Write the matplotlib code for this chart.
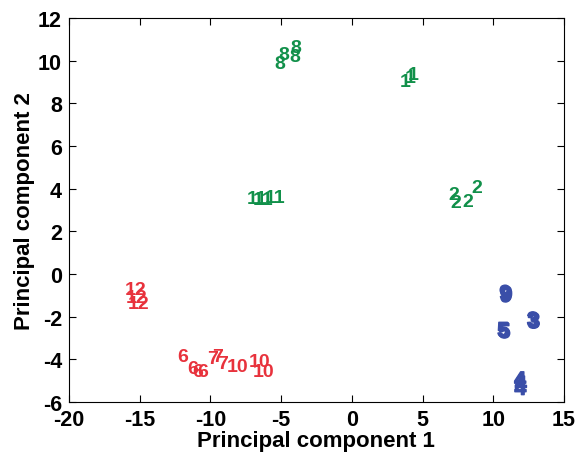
import matplotlib
matplotlib.use("Agg")
import matplotlib.pyplot as plt
import matplotlib.patheffects as pe

plt.rcParams['font.family'] = ['Liberation Sans', 'DejaVu Sans']
plt.rcParams['axes.unicode_minus'] = False

# Label groups: (label, x values, y values, colour key)
g8_x = [-5.1, -4.8, -4.0, -3.95]
g8_y = [9.85, 10.3, 10.2, 10.6]
g1_x = [3.8, 4.15, 4.35]
g1_y = [9.0, 9.2, 9.35]
g11_x = [-6.7, -6.3, -5.4]
g11_y = [3.55, 3.5, 3.6]
g2_x = [7.2, 7.35, 8.2, 8.8]
g2_y = [3.7, 3.35, 3.4, 4.05]
g12_x = [-15.3, -15.2, -15.1]
g12_y = [-0.75, -1.1, -1.4]
g6_x = [-11.95, -11.25, -10.9, -10.55]
g6_y = [-3.85, -4.45, -4.55, -4.55]
g7_x = [-9.85, -9.5, -9.15]
g7_y = [-3.95, -3.85, -4.2]
g10_x = [-8.1, -6.55, -6.25]
g10_y = [-4.35, -4.1, -4.55]
g9_x = [10.85, 10.95, 10.9]
g9_y = [-0.95, -1.0, -1.05]
g3_x = [12.8, 12.9, 12.85]
g3_y = [-2.2, -2.25, -2.28]
g5_x = [10.7, 10.8, 10.75]
g5_y = [-2.68, -2.74, -2.7]
g4_x = [11.9, 11.95, 11.92]
g4_y = [-5.0, -5.2, -5.4]

groups = [
    ("8", g8_x, g8_y, "green"), ("1", g1_x, g1_y, "green"),
    ("11", g11_x, g11_y, "green"), ("2", g2_x, g2_y, "green"),
    ("12", g12_x, g12_y, "red"), ("6", g6_x, g6_y, "red"),
    ("7", g7_x, g7_y, "red"), ("10", g10_x, g10_y, "red"),
    ("9", g9_x, g9_y, "blue"), ("3", g3_x, g3_y, "blue"),
    ("5", g5_x, g5_y, "blue"), ("4", g4_x, g4_y, "blue"),
]
colors = {"green": "#11904a", "red": "#e8323c", "blue": "#3a4ea8"}

xticks = [-20, -15, -10, -5, 0, 5, 10, 15]
yticks = [-6, -4, -2, 0, 2, 4, 6, 8, 10, 12]

fig = plt.figure(figsize=(5.79, 4.6), dpi=100)
ax = fig.add_axes([0.119, 0.124, 0.855, 0.835])
for lab, xs, ys, c in groups:
    for x, y in zip(xs, ys):
        if c == "blue":
            ax.text(x, y, lab, color=colors[c], fontsize=15, fontweight='bold',
                    ha='center', va='center',
                    path_effects=[pe.withStroke(linewidth=1, foreground=colors[c])])
        else:
            ax.text(x, y, lab, color=colors[c], fontsize=14, fontweight='bold',
                    ha='center', va='center')

ax.set_xlim(-20, 15)
ax.set_ylim(-6, 12)
ax.set_xticks(xticks)
ax.set_yticks(yticks)
ax.tick_params(direction='in', top=True, right=True, length=5, width=0.8,
               labelsize=15.5, pad=5)
for lbl in ax.get_xticklabels() + ax.get_yticklabels():
    lbl.set_fontweight('bold')
for s in ax.spines.values():
    s.set_linewidth(0.8)
ax.set_xlabel("Principal component 1", fontsize=16, fontweight='bold', labelpad=0)
ax.set_ylabel("Principal component 2", fontsize=16, fontweight='bold', labelpad=2)

fig.savefig("out.png", dpi=100)
